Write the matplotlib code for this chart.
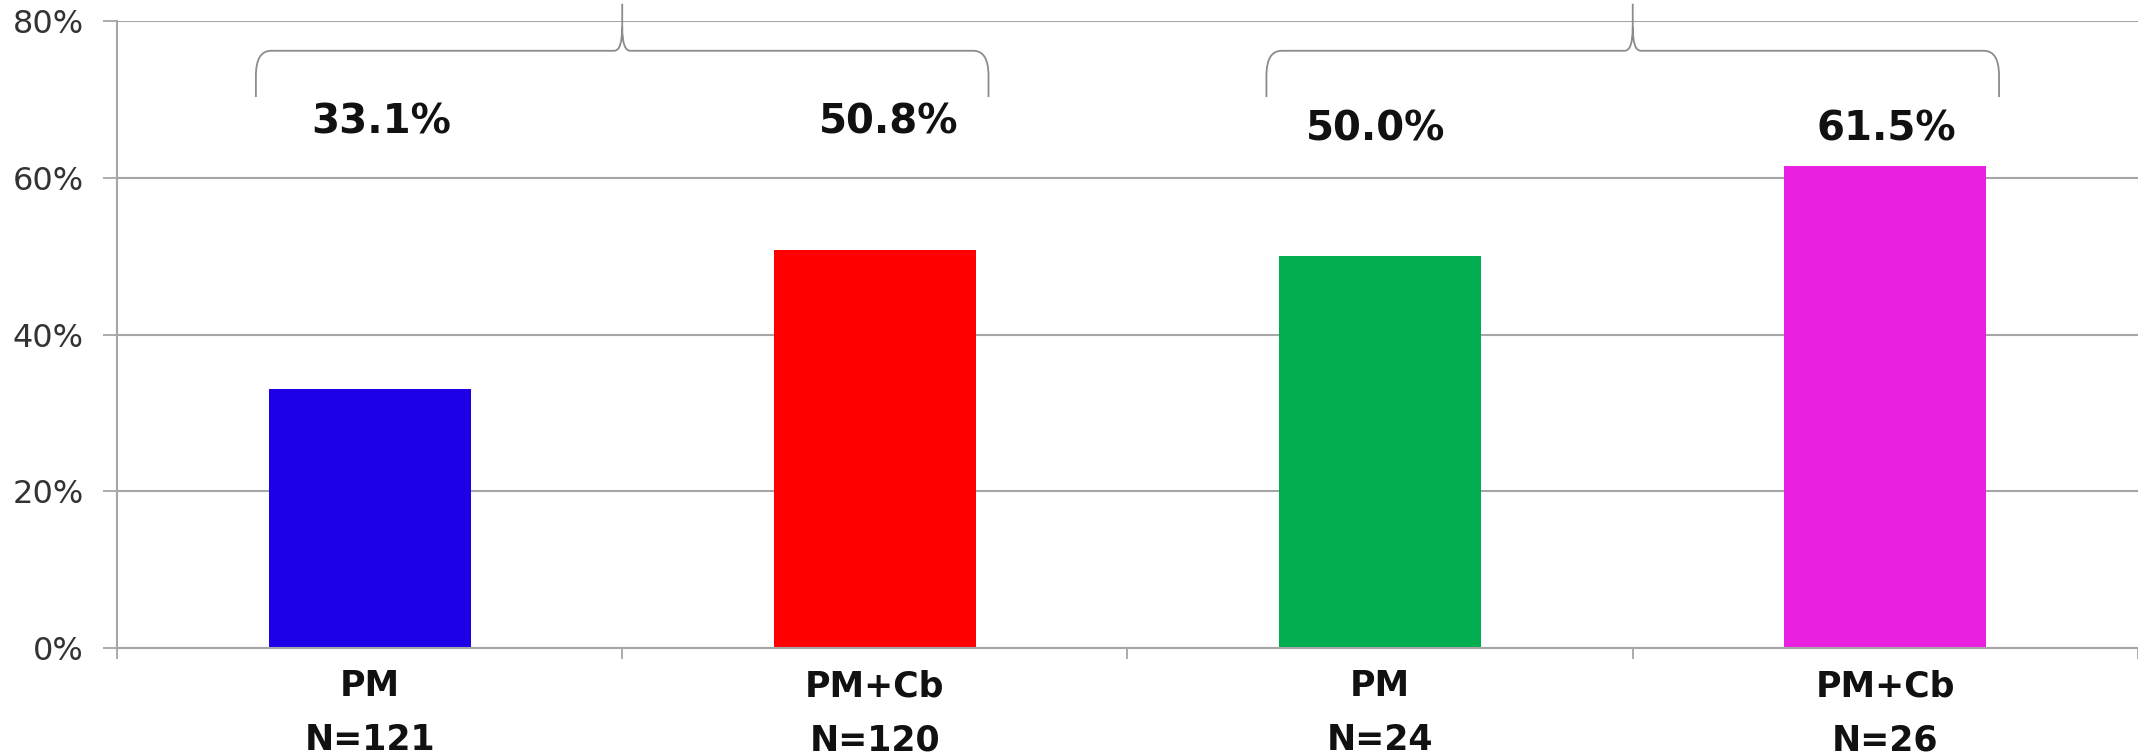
import numpy as np
import matplotlib.pyplot as plt
from matplotlib.path import Path
from matplotlib.patches import PathPatch
from matplotlib.transforms import blended_transform_factory

# response rates per arm (%)
arms = ['PM', 'PM+Cb', 'PM', 'PM+Cb']
n_patients = [121, 120, 24, 26]
rates = [33.1, 50.8, 50.0, 61.5]
bar_colors = ['#1e00e8', '#fe0000', '#00ad4f', '#ea20e0']
# arms compared under each brace
pairs = [(0, 1), (2, 3)]

yticks = [0, 20, 40, 60, 80]
GRID = '#a6a6a6'


def draw_brace(ax, x0, x1, y_end=70.3, y_bar=76.2, y_tip=82.2,
               rx=0.03, ry=3.2, tip_rx=0.016, tip_ry=3.0):
    xm = (x0 + x1) / 2
    verts = [
        (x0, y_end), (x0, y_bar - ry),
        (x0, y_bar), (x0 + rx, y_bar),
        (xm - tip_rx, y_bar),
        (xm, y_bar), (xm, y_bar + tip_ry),
        (xm, y_tip),
        (xm, y_bar + tip_ry),
        (xm, y_bar), (xm + tip_rx, y_bar),
        (x1 - rx, y_bar),
        (x1, y_bar), (x1, y_bar - ry),
        (x1, y_end),
    ]
    codes = [Path.MOVETO, Path.LINETO,
             Path.CURVE3, Path.CURVE3,
             Path.LINETO,
             Path.CURVE3, Path.CURVE3,
             Path.LINETO,
             Path.MOVETO,
             Path.CURVE3, Path.CURVE3,
             Path.LINETO,
             Path.CURVE3, Path.CURVE3,
             Path.LINETO]
    patch = PathPatch(Path(verts, codes), fill=False, edgecolor='#8c8c8c',
                      linewidth=1.3, clip_on=False, zorder=3)
    ax.add_patch(patch)


fig = plt.figure(figsize=(21.38, 7.55), dpi=100)
ax = fig.add_axes([0.0547, 0.1417, 0.9453, 0.8305])

x = np.arange(len(rates))
ax.bar(x, rates, width=0.4, color=bar_colors, zorder=2)

ax.set_xlim(-0.5, len(rates) - 0.5)
ax.set_ylim(0, 80)
ax.set_yticks(yticks)
ax.set_yticklabels(['{}%'.format(t) for t in yticks])
ax.yaxis.grid(True, color=GRID, linewidth=1.5, zorder=0)
ax.set_axisbelow(True)

ax.set_xticks(np.arange(len(rates) + 1) - 0.5)
ax.set_xticklabels([])
ax.tick_params(axis='x', direction='out', length=8, width=1.3, color=GRID)
ax.tick_params(axis='y', direction='out', length=10, width=1.3, color=GRID,
               pad=14, labelsize=23, labelcolor='#333333')

for side in ['top', 'right']:
    ax.spines[side].set_visible(False)
for side in ['left', 'bottom']:
    ax.spines[side].set_color(GRID)
    ax.spines[side].set_linewidth(1.5)

# value labels above the braces
label_y = [67.0, 67.0, 66.1, 66.1]
label_dx = [0.022, 0.028, -0.008, 0.002]
for xi, r, ly, dx in zip(x, rates, label_y, label_dx):
    ax.text(xi + dx, ly, '{:.1f}%'.format(r), ha='center', va='center',
            fontsize=29, fontweight='bold', color='#111111')

# arm names and sample sizes under the axis
trans = blended_transform_factory(ax.transData, ax.transAxes)
for xi, name, n in zip(x, arms, n_patients):
    ax.text(xi, -0.061, name, transform=trans, ha='center', va='center',
            fontsize=25, fontweight='bold', color='#111111')
    ax.text(xi, -0.147, 'N={}'.format(n), transform=trans, ha='center',
            va='center', fontsize=25, fontweight='bold', color='#111111')

for a, b in pairs:
    draw_brace(ax, a - 0.225, b + 0.225)

plt.savefig('out.png', dpi=100)
